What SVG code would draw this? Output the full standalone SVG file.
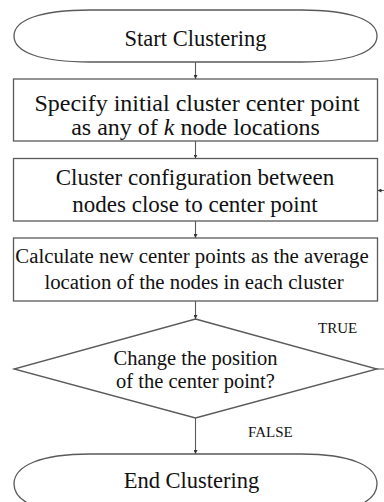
<svg xmlns="http://www.w3.org/2000/svg" width="384" height="502" viewBox="0 0 384 502">
  <style>
    .shape { fill: #ffffff; stroke: #5a5a5a; stroke-width: 1.3; }
    .edge { fill: none; stroke: #5a5a5a; stroke-width: 1.1; }
    text { font-family: "Liberation Serif", "Times New Roman", serif; fill: #111111; text-anchor: middle; }
    .t22 { font-size: 22.5px; }
    .t24 { font-size: 24px; }
    .t23 { font-size: 23px; }
    .t21 { font-size: 20.8px; }
    .t20 { font-size: 20.5px; }
    .lbl { font-size: 15px; text-anchor: start; }
  </style>
  <defs>
    <marker id="arrow" viewBox="0 0 6 6" refX="6" refY="3" markerWidth="4" markerHeight="4" markerUnits="userSpaceOnUse" orient="auto">
      <path d="M0,0 L6,3 L0,6 Z" fill="#333333"/>
    </marker>
  </defs>

  <rect width="384" height="502" fill="#ffffff"/>

  <!-- connectors -->
  <g id="connectors">
    <line class="edge" x1="195.5" y1="62" x2="195.5" y2="79" marker-end="url(#arrow)"/>
    <line class="edge" x1="195.5" y1="141" x2="195.5" y2="158.5" marker-end="url(#arrow)"/>
    <line class="edge" x1="195.5" y1="221" x2="195.5" y2="238" marker-end="url(#arrow)"/>
    <line class="edge" x1="195.5" y1="301" x2="195.5" y2="319" marker-end="url(#arrow)"/>
    <line class="edge" x1="195.5" y1="418" x2="195.5" y2="454" marker-end="url(#arrow)"/>
    <!-- TRUE branch loops back to the clustering step -->
    <path class="edge" d="M377,369 H392 V190.5 H377.5" marker-end="url(#arrow)"/>
    <text class="lbl" x="318" y="333">TRUE</text>
    <text class="lbl" x="248" y="437">FALSE</text>
  </g>

  <g id="start">
    <path class="shape" d="M90,10 H301 C351,10 377,20 377,36 C377,52 351,62 301,62 H90 C40,62 14,52 14,36 C14,20 40,10 90,10 Z"/>
    <text class="t22" x="195.5" y="46">Start Clustering</text>
  </g>

  <g id="init">
    <rect class="shape" x="13.5" y="79" width="364" height="62"/>
    <text class="t24" x="197" y="111">Specify initial cluster center point</text>
    <text class="t24" x="195.5" y="135">as any of <tspan font-style="italic">k</tspan> node locations</text>
  </g>

  <g id="assign">
    <rect class="shape" x="13.5" y="158.5" width="364" height="62.5"/>
    <text class="t23" x="195" y="185">Cluster configuration between</text>
    <text class="t23" x="195" y="212">nodes close to center point</text>
  </g>

  <g id="update">
    <rect class="shape" x="13.5" y="238" width="364" height="63"/>
    <text class="t21" x="192" y="263">Calculate new center points as the average</text>
    <text class="t21" x="194" y="289">location of the nodes in each cluster</text>
  </g>

  <g id="decision">
    <polygon class="shape" points="195.5,319 377,369 195.5,418 14,369"/>
    <text class="t20" x="195.5" y="365">Change the position</text>
    <text class="t20" x="195.5" y="388">of the center point?</text>
  </g>

  <g id="end">
    <path class="shape" d="M90,454 H301 C351,454 377,466 377,484 C377,502 351,514 301,514 H90 C40,514 14,502 14,484 C14,466 40,454 90,454 Z"/>
    <text class="t22" x="191.5" y="488">End Clustering</text>
  </g>
</svg>
